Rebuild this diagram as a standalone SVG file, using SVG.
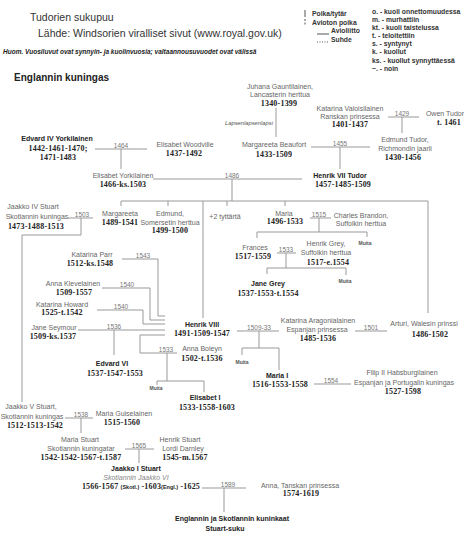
<svg xmlns="http://www.w3.org/2000/svg" width="474" height="541" viewBox="0 0 474 541">
<style>
text{font-family:"Liberation Sans",Arial,sans-serif}
.h{font-size:10.5px;fill:#333}
.lg{font-size:6.8px;font-weight:bold;fill:#333}
.nm{font-size:7px;fill:#666;text-anchor:middle}
.b{font-size:7px;font-weight:bold;fill:#222;text-anchor:middle}
.dt{font-family:"Liberation Serif","Times New Roman",serif;font-size:8px;font-weight:bold;fill:#222;text-anchor:middle;letter-spacing:0.2px}
.yr{font-size:6.5px;fill:#777;text-anchor:middle}
.mu{font-size:5px;font-weight:bold;fill:#555;text-anchor:middle}
.sm{font-family:"Liberation Sans",Arial,sans-serif;font-size:5.5px;letter-spacing:0}
.ln{fill:none;stroke:#999;stroke-width:1}
</style>
<rect width="474" height="541" fill="#fff"/>
<g id="header">
<text class="h" x="30" y="21">Tudorien sukupuu</text>
<text class="h" x="38" y="37">Lähde: Windsorien viralliset sivut  (www.royal.gov.uk)</text>
<text x="3" y="54" style="font-size:6.5px;font-style:italic;font-weight:bold;fill:#222">Huom. Vuosiluvut ovat synnyin- ja kuolinvuosia; valtaannousuvuodet ovat välissä</text>
<text x="14" y="81" style="font-size:10px;font-weight:bold;fill:#222">Englannin kuningas</text>
</g>
<g id="legend">
<line class="ln" x1="305" y1="10" x2="305" y2="17" style="stroke:#555"/>
<text class="lg" x="312" y="16">Poika/tytär</text>
<line class="ln" x1="305" y1="19" x2="305" y2="26" style="stroke:#555;stroke-dasharray:2,1.5"/>
<text class="lg" x="312" y="25">Avioton poika</text>
<line class="ln" x1="317" y1="34" x2="329" y2="34" style="stroke:#555"/>
<text class="lg" x="331" y="33">Avioliitto</text>
<line class="ln" x1="317" y1="42" x2="329" y2="42" style="stroke:#555;stroke-dasharray:1,1.5"/>
<text class="lg" x="331" y="42">Suhde</text>
<text class="lg" x="372" y="14">o. - kuoli onnettomuudessa</text>
<text class="lg" x="372" y="22">m. - murhattiin</text>
<text class="lg" x="372" y="30">kt. - kuoli taistelussa</text>
<text class="lg" x="372" y="38">t. - teloitettiin</text>
<text class="lg" x="372" y="46">s. - syntynyt</text>
<text class="lg" x="372" y="54">k. - kuollut</text>
<text class="lg" x="372" y="63">ks. - kuollut synnyttäessä</text>
<text class="lg" x="372" y="71">~. - noin</text>
</g>
<g id="connectors">
<path class="ln" d="M276 108V137"/>
<text x="273" y="125" style="font-size:5.8px;font-style:italic;fill:#555;text-anchor:end">Lapsenlapsenlapsi</text>
<path class="ln" d="M388 117H419M402 117V133"/>
<path class="ln" d="M311 147H370M340 147V169"/>
<path class="ln" d="M95 149H147M121 149V169"/>
<path class="ln" d="M153 179H302M232 179V201"/>
<path class="ln" d="M121 201H428M121 201V206M168 201V206M203 201V318M227 201V206M285 201V206M428 201V313"/>
<path class="ln" d="M310 218H331M319 218V232M257 232H367M257 232V238M367 232V237"/>
<path class="ln" d="M277 253H296M286 253V268M267 268H346M267 268V274M346 268V275"/>
<path class="ln" d="M68 218H93M81 218V235H22V402"/>
<path class="ln" d="M122 259H158V316H165"/>
<path class="ln" d="M102 288H150V320H165"/>
<path class="ln" d="M97 310H143V324H165"/>
<path class="ln" d="M78 330H165M114 330V355"/>
<path class="ln" d="M165 335H140V353H177M167 353V381M157 381H204M157 381V385M204 381V392"/>
<path class="ln" d="M237 331H279M259 331V348M242 348H279M242 348V355M279 348V370"/>
<path class="ln" d="M355 331H387"/>
<path class="ln" d="M314 384H351"/>
<path class="ln" d="M65 418H93M81 418V433"/>
<path class="ln" d="M125 449H154M139 449V463"/>
<path class="ln" d="M202 488H246M224 488V512"/>
<text class="yr" x="121" y="148">1464</text>
<text class="yr" x="232" y="178">1486</text>
<text class="yr" x="340" y="146">1455</text>
<text class="yr" x="402" y="116">1429</text>
<text class="yr" x="319" y="217">1515</text>
<text class="yr" x="286" y="252">1533</text>
<text class="yr" x="82" y="217">1503</text>
<text class="yr" x="143" y="258">1543</text>
<text class="yr" x="127" y="287">1540</text>
<text class="yr" x="121" y="309">1540</text>
<text class="yr" x="114" y="329">1536</text>
<text class="yr" x="166" y="352">1533</text>
<text class="yr" x="259" y="330">1509-33</text>
<text class="yr" x="371" y="330">1501</text>
<text class="yr" x="331" y="383">1554</text>
<text class="yr" x="81" y="417">1538</text>
<text class="yr" x="139" y="448">1565</text>
<text class="yr" x="228" y="487">1589</text>
</g>
<g id="juhana"><text class="nm" x="280" y="88.5">Juhana Gauntilainen,</text><text class="nm" x="280" y="97">Lancasterin herttua</text><text class="dt" x="279" y="106">1340-1399</text></g>
<g id="katarina-valois"><text class="nm" x="350" y="110.5">Katarina Valoisilainen</text><text class="nm" x="350" y="118.5">Ranskan prinsessa</text><text class="dt" x="350" y="127">1401-1437</text></g>
<g id="owen-tudor"><text class="nm" x="445" y="115.5">Owen Tudor</text><text class="dt" x="449" y="125">t. 1461</text></g>
<g id="edmund-tudor"><text class="nm" x="405" y="141.5">Edmund Tudor,</text><text class="nm" x="405" y="150.5">Richmondin jaarli</text><text class="dt" x="403" y="160">1430-1456</text></g>
<g id="margareeta-beaufort"><text class="nm" x="274" y="146.5">Margareeta Beaufort</text><text class="dt" x="274" y="157">1433-1509</text></g>
<g id="henrik-vii"><text class="b" x="340" y="177.5">Henrik VII Tudor</text><text class="dt" x="343" y="186.5">1457-1485-1509</text></g>
<g id="edvard-iv"><text class="b" x="57" y="140.5">Edvard IV Yorkilainen</text><text class="dt" x="58" y="151">1442-1461-1470;</text><text class="dt" x="58" y="159.5">1471-1483</text></g>
<g id="elisabet-woodville"><text class="nm" x="185" y="146.5">Elisabet Woodville</text><text class="dt" x="184" y="156">1437-1492</text></g>
<g id="elisabet-york"><text class="nm" x="123" y="177.5">Elisabet Yorkilainen</text><text class="dt" x="123" y="187">1466-ks.1503</text></g>
<g id="margareeta"><text class="nm" x="120" y="215.5">Margareeta</text><text class="dt" x="120" y="225">1489-1541</text></g>
<g id="edmund-somerset"><text class="nm" x="170" y="215.5">Edmund,</text><text class="nm" x="170" y="224.5">Somersetin herttua</text><text class="dt" x="170" y="233">1499-1500</text></g>
<g id="tyttaret"><text class="nm" x="225" y="218.5">+2 tyttärtä</text></g>
<g id="maria"><text class="nm" x="284" y="215.5">Maria</text><text class="dt" x="285" y="224">1496-1533</text></g>
<g id="charles-brandon"><text class="nm" x="361" y="217.5">Charles Brandon,</text><text class="nm" x="361" y="225.5">Suffolkin herttua</text></g>
<g id="muita-1"><text class="mu" x="365" y="245">Muita</text></g>
<g id="frances"><text class="nm" x="255" y="249.5">Frances</text><text class="dt" x="253" y="259">1517-1559</text></g>
<g id="henrik-grey"><text class="nm" x="326" y="245.5">Henrik Grey,</text><text class="nm" x="326" y="254.5">Suffolkin herttua</text><text class="dt" x="328" y="265">1517-e.1554</text></g>
<g id="jane-grey"><text class="b" x="268" y="285.5">Jane Grey</text><text class="dt" x="268" y="296">1537-1553-t.1554</text></g>
<g id="muita-2"><text class="mu" x="345" y="283">Muita</text></g>
<g id="jaakko-iv"><text class="nm" x="33" y="208.5">Jaakko IV Stuart</text><text class="nm" x="37" y="218.5">Skotlannin kuningas</text><text class="dt" x="36" y="229">1473-1488-1513</text></g>
<g id="katarina-parr"><text class="nm" x="92" y="256.5">Katarina Parr</text><text class="dt" x="90" y="266">1512-ks.1548</text></g>
<g id="anna-kleve"><text class="nm" x="73" y="285.5">Anna Klevelainen</text><text class="dt" x="74" y="295">1509-1557</text></g>
<g id="katarina-howard"><text class="nm" x="62" y="306.5">Katarina Howard</text><text class="dt" x="62" y="315">1525-t.1542</text></g>
<g id="jane-seymour"><text class="nm" x="54" y="329.5">Jane Seymour</text><text class="dt" x="53" y="339">1509-ks.1537</text></g>
<g id="edvard-vi"><text class="b" x="112" y="365.5">Edvard VI</text><text class="dt" x="115" y="376">1537-1547-1553</text></g>
<g id="henrik-viii"><text class="b" x="202" y="326.5">Henrik VIII</text><text class="dt" x="202" y="336">1491-1509-1547</text></g>
<g id="anna-boleyn"><text class="nm" x="202" y="350.5">Anna Boleyn</text><text class="dt" x="202" y="361">1502-t.1536</text></g>
<g id="muita-3"><text class="mu" x="156" y="390">Muita</text></g>
<g id="elisabet-i"><text class="b" x="205" y="399.5">Elisabet I</text><text class="dt" x="207" y="410">1533-1558-1603</text></g>
<g id="arturi"><text class="nm" x="424" y="325.5">Arturi, Walesin prinssi</text><text class="dt" x="430" y="337">1486-1502</text></g>
<g id="katarina-aragon"><text class="nm" x="318" y="322.5">Katarina Aragonialainen</text><text class="nm" x="317" y="331.5">Espanjan prinsessa</text><text class="dt" x="318" y="341">1485-1536</text></g>
<g id="muita-4"><text class="mu" x="242" y="364">Muita</text></g>
<g id="maria-i"><text class="b" x="277" y="377.5">Maria I</text><text class="dt" x="280" y="387">1516-1553-1558</text></g>
<g id="filip-ii"><text class="nm" x="402" y="374.5">Filip II Habsburgilainen</text><text class="nm" x="404" y="384.5">Espanjan ja Portugalin kuningas</text><text class="dt" x="403" y="394">1527-1598</text></g>
<g id="jaakko-v"><text class="nm" x="31" y="408.5">Jaakko V Stuart,</text><text class="nm" x="32" y="418.5">Skotlannin kuningas</text><text class="dt" x="35" y="428">1512-1513-1542</text></g>
<g id="maria-guise"><text class="nm" x="124" y="415.5">Maria Guiselainen</text><text class="dt" x="122" y="425">1515-1560</text></g>
<g id="maria-stuart"><text class="nm" x="80" y="441.5">Maria Stuart</text><text class="nm" x="81" y="450.5">Skotlannin kuningatar</text><text class="dt" x="81" y="460">1542-1542-1567-t.1587</text></g>
<g id="henrik-stuart"><text class="nm" x="180" y="441.5">Henrik Stuart</text><text class="nm" x="183" y="450.5">Lordi Darnley</text><text class="dt" x="185" y="460">1545-m.1567</text></g>
<g id="jaakko-i"><text class="b" x="136" y="470.5">Jaakko I Stuart</text><text class="nm" x="136" y="479.5" style="font-style:italic;fill:#888">Skotlannin Jaakko VI</text><text class="dt" x="141" y="489">1566-1567 <tspan class="sm">(Skotl.)</tspan> -1603<tspan class="sm">(Engl.)</tspan> -1625</text></g>
<g id="anna-tanska"><text class="nm" x="300" y="487.5">Anna, Tanskan prinsessa</text><text class="dt" x="301" y="496">1574-1619</text></g>
<g id="stuart-suku"><text class="b" x="232" y="520.5">Englannin ja Skotlannin kuninkaat</text><text class="b" x="225" y="530.5">Stuart-suku</text></g>
</svg>
